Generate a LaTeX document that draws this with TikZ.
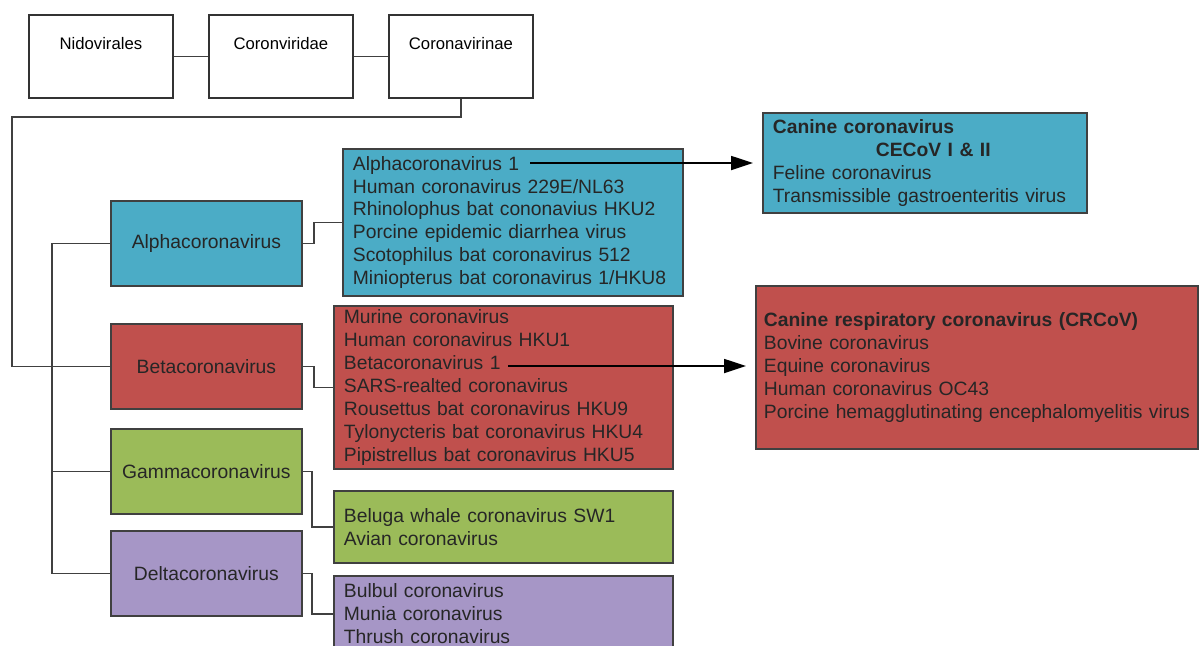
\documentclass[tikz,border=0pt]{standalone}
\usepackage{fontspec}
\setmainfont{Liberation Sans}
\usetikzlibrary{arrows.meta}
\definecolor{alphablue}{RGB}{75,172,198}
\definecolor{betared}{RGB}{192,80,77}
\definecolor{gammagreen}{RGB}{155,187,89}
\definecolor{deltapurple}{RGB}{166,150,198}

\begin{document}
\begin{tikzpicture}[x=0.5pt,y=-0.5pt,
  rank/.style={draw=black!80,line width=0.9pt,fill=white,anchor=north west,minimum width=72pt,inner sep=0pt,text height=17.5pt,text depth=24pt,font=\fontsize{8.35}{10}\selectfont},
  genus/.style={draw=black!75,line width=0.9pt,anchor=north west,minimum width=95.5pt,minimum height=42.5pt,inner sep=0pt,text=black!85,font=\fontsize{9.65}{11.5}\selectfont},
  list/.style={draw=black!75,line width=0.9pt,anchor=north west,align=left,inner xsep=5pt,inner ysep=0pt,text=black!85,font=\fontsize{9.65}{11.45}\selectfont},
  conn/.style={draw=black!75,line width=0.9pt},
  arr/.style={line width=0.9pt,-{Triangle[length=11pt,width=7pt]},shorten >=4.5pt}]
  \useasboundingbox (0,0) rectangle (1199,645);
  \clip (0,0) rectangle (1199,645);
  \fill[white] (0,0) rectangle (1199,645);
  \foreach \n/\x/\t in {nido/28/Nidovirales,coronv/208/Coronviridae,coronavirinae/388/Coronavirinae}
    \node[rank] (\n) at (\x,14) {\t};
  \foreach \n/\y/\c/\t in {alpha/200/alphablue/Alphacoronavirus,beta/323/betared/Betacoronavirus,gamma/428/gammagreen/Gammacoronavirus,delta/530/deltapurple/Deltacoronavirus}
    \node[genus,fill=\c] (\n) at (110,\y) {\t};
  \node[list,fill=alphablue,text width=160pt,minimum height=73.5pt] (alphaList) at (342,148)
    {Alphacoronavirus 1\\Human coronavirus 229E/NL63\\Rhinolophus bat cononavius HKU2\\Porcine epidemic diarrhea virus\\Scotophilus bat coronavirus 512\\Miniopterus bat coronavirus 1/HKU8};
  \node[list,fill=betared,text width=159.5pt,minimum height=81.5pt] (betaList) at (333,305)
    {Murine coronavirus\\Human coronavirus HKU1\\Betacoronavirus 1\\SARS-realted coronavirus\\Rousettus bat coronavirus HKU9\\Tylonycteris bat coronavirus HKU4\\Pipistrellus bat coronavirus HKU5};
  \node[list,fill=gammagreen,text width=159.5pt,minimum height=36pt] (gammaList) at (333,490)
    {Beluga whale coronavirus SW1\\Avian coronavirus};
  \node[list,fill=deltapurple,text width=159.5pt,minimum height=38pt] (deltaList) at (333,575)
    {Bulbul coronavirus\\Munia coronavirus\\Thrush coronavirus};
  \node[list,fill=alphablue,text width=152pt,minimum height=50pt] (canine) at (762,112)
    {\textbf{Canine coronavirus}\\\hspace*{51.5pt}\textbf{CECoV I \& II}\\Feline coronavirus\\Transmissible gastroenteritis virus};
  \node[list,fill=betared,text width=213pt,inner xsep=4pt,minimum height=81.5pt] (crcov) at (755,285)
    {\textbf{Canine respiratory coronavirus (CRCoV)}\\Bovine coronavirus\\Equine coronavirus\\Human coronavirus OC43\\Porcine hemagglutinating encephalomyelitis virus};
  \coordinate (trunk) at (12,117);
  \coordinate (spine) at (52,0);
  \coordinate (a1) at (530,163);
  \coordinate (b1) at (508,366);
  \draw[conn] (nido.east) -- (coronv.west);
  \draw[conn] (coronv.east) -- (coronavirinae.west);
  \draw[conn] (coronavirinae.south) |- (trunk) |- (beta.west);
  \draw[conn] (alpha.west) -- (alpha.west -| spine) -- (delta.west -| spine) -- (delta.west);
  \draw[conn] (gamma.west) -- (gamma.west -| spine);
  \draw[conn] (alpha.east) -- ++(11,0) |- (alphaList.west);
  \draw[conn] (beta.east) -- ++(11,0) |- (betaList.west);
  \draw[conn] (gamma.east) -- ++(9,0) |- (gammaList.west);
  \draw[conn] (delta.east) -- ++(9,0) |- (deltaList.west);
  \draw[arr] (a1) -- (a1 -| canine.west);
  \draw[arr] (b1) -- (b1 -| crcov.west);
\end{tikzpicture}
\end{document}
